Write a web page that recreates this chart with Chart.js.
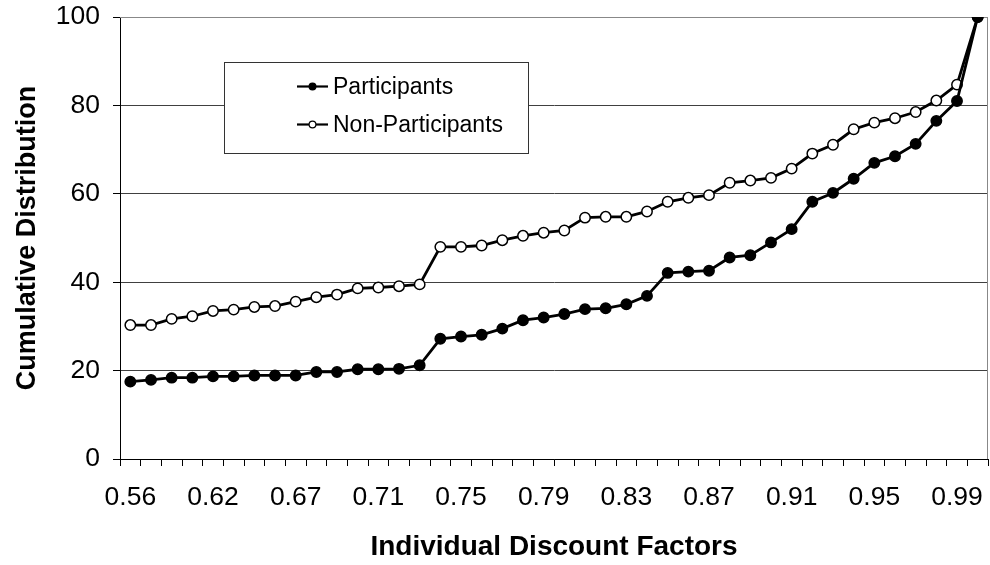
<!DOCTYPE html>
<html>
<head>
<meta charset="utf-8">
<script src="https://cdn.jsdelivr.net/npm/chart.js@4.4.1/dist/chart.umd.min.js"></script>
<style>
    html, body { margin: 0; padding: 0; background: #fff; }
    #wrap { width: 990px; height: 565px; position: relative; }
</style>
</head>
<body>
<div id="wrap"><canvas id="graficaDescuento"></canvas></div>
<script>
// 1. DATOS
const factores = [
    '0.56', '0.57', '0.59', '0.60', '0.62', '0.63', '0.64', '0.66', '0.67', '0.68', '0.69', '0.70',
    '0.71', '0.72', '0.73', '0.74', '0.75', '0.76', '0.77', '0.78', '0.79', '0.80', '0.81', '0.82',
    '0.83', '0.84', '0.85', '0.86', '0.87', '0.88', '0.89', '0.90', '0.91', '0.92', '0.93', '0.94',
    '0.95', '0.96', '0.97', '0.98', '0.99', '1.00'
];
const participantes = [
    17.5, 17.9, 18.4, 18.4, 18.7, 18.7, 18.9, 18.9, 18.9, 19.7, 19.7, 20.3,
    20.3, 20.4, 21.2, 27.2, 27.7, 28.1, 29.5, 31.4, 32.0, 32.8, 33.9, 34.1,
    35.0, 36.9, 42.1, 42.4, 42.6, 45.6, 46.1, 49.0, 52.0, 58.2, 60.2, 63.4,
    67.0, 68.5, 71.3, 76.5, 81.0, 100
];
const noParticipantes = [
    30.3, 30.3, 31.7, 32.3, 33.5, 33.8, 34.4, 34.6, 35.6, 36.6, 37.2, 38.6,
    38.8, 39.1, 39.5, 48.0, 48.0, 48.3, 49.5, 50.5, 51.2, 51.7, 54.6, 54.8,
    54.8, 56.0, 58.2, 59.1, 59.7, 62.5, 63.0, 63.6, 65.7, 69.1, 71.1, 74.6,
    76.1, 77.1, 78.5, 81.1, 84.7, 100
];
const ticksY = [0, 20, 40, 60, 80, 100];

const fuente = "Arial, 'Liberation Sans', sans-serif";

// 2. MARCO DEL ÁREA DE GRÁFICA (borde gris arriba y a la derecha)
const marcoPlugin = {
    id: 'marco',
    beforeDatasetsDraw(chart) {
        const { ctx, chartArea: a } = chart;
        ctx.save();
        ctx.strokeStyle = '#888';
        ctx.lineWidth = 1;
        ctx.beginPath();
        ctx.moveTo(a.left, a.top + 0.5);
        ctx.lineTo(a.right - 0.5, a.top + 0.5);
        ctx.lineTo(a.right - 0.5, a.bottom);
        ctx.stroke();
        ctx.restore();
    }
};

// 3. LEYENDA DENTRO DEL ÁREA (caja estilo Excel)
const leyendaPlugin = {
    id: 'leyendaCaja',
    afterDraw(chart) {
        const { ctx } = chart;
        const x0 = 224.5, y0 = 62.5, w = 304, h = 91;
        ctx.save();
        ctx.fillStyle = '#fff';
        ctx.fillRect(x0, y0, w, h);
        ctx.strokeStyle = '#333';
        ctx.lineWidth = 1;
        ctx.strokeRect(x0, y0, w, h);

        const filas = [86.5, 124.5];
        chart.data.datasets.forEach((ds, i) => {
            const y = filas[i];
            ctx.strokeStyle = '#000';
            ctx.lineWidth = 2.2;
            ctx.beginPath();
            ctx.moveTo(297, y);
            ctx.lineTo(328, y);
            ctx.stroke();
            ctx.beginPath();
            ctx.arc(312.5, y, 3.4, 0, Math.PI * 2);
            ctx.fillStyle = ds.pointBackgroundColor;
            ctx.fill();
            ctx.lineWidth = 1.2;
            ctx.stroke();

            ctx.fillStyle = '#000';
            ctx.font = '23px ' + fuente;
            ctx.textBaseline = 'middle';
            ctx.textAlign = 'left';
            ctx.fillText(ds.label, 333, y + 1);
        });
        ctx.restore();
    }
};

// 4. GRÁFICA
const ctx = document.getElementById('graficaDescuento').getContext('2d');
new Chart(ctx, {
    type: 'line',
    data: {
        labels: factores,
        datasets: [
            {
                label: 'Participants',
                data: participantes,
                borderColor: '#000',
                borderWidth: 2.8,
                pointRadius: 5.2,
                pointBorderWidth: 1.5,
                pointBorderColor: '#000',
                pointBackgroundColor: '#000',
                tension: 0
            },
            {
                label: 'Non-Participants',
                data: noParticipantes,
                borderColor: '#000',
                borderWidth: 2.8,
                pointRadius: 5.2,
                pointBorderWidth: 1.5,
                pointBorderColor: '#000',
                pointBackgroundColor: '#fff',
                tension: 0
            }
        ]
    },
    options: {
        responsive: true,
        maintainAspectRatio: false,
        animation: false,
        devicePixelRatio: 1,
        layout: { autoPadding: false, padding: { top: 17, right: 2, left: 0, bottom: 0 } },
        plugins: {
            legend: { display: false },
            tooltip: { enabled: false }
        },
        scales: {
            x: {
                type: 'category',
                offset: true,
                grid: {
                    offset: true,
                    drawOnChartArea: false,
                    drawTicks: true,
                    tickLength: 7,
                    color: '#000',
                    tickColor: '#000'
                },
                border: { display: true, color: '#000', width: 1 },
                ticks: {
                    autoSkip: false,
                    maxRotation: 0,
                    minRotation: 0,
                    padding: 16,
                    color: '#000',
                    font: { family: fuente, size: 26.5 },
                    callback: function (val, i) {
                        return i % 4 === 0 ? this.getLabelForValue(val) : '';
                    }
                },
                title: {
                    display: true,
                    text: 'Individual Discount Factors',
                    color: '#000',
                    font: { family: fuente, size: 28, weight: 'bold' },
                    padding: { top: 0, bottom: 1 }
                },
                afterFit: (s) => {
                    s.height = 106;
                    s.paddingLeft = 0;
                    s.paddingRight = 0;
                }
            },
            y: {
                min: 0,
                max: 100,
                afterBuildTicks: (s) => { s.ticks = ticksY.map(v => ({ value: v })); },
                grid: {
                    drawTicks: true,
                    tickLength: 7,
                    tickColor: '#000',
                    lineWidth: 1,
                    color: (c) => {
                        if (!c.tick) return '#404040';
                        if (c.tick.value === 100) return '#888';
                        if (c.tick.value === 0) return '#000';
                        return '#404040';
                    }
                },
                border: { display: true, color: '#000', width: 1 },
                ticks: {
                    padding: 13,
                    color: '#000',
                    font: { family: fuente, size: 26.5 }
                },
                title: {
                    display: true,
                    text: 'Cumulative Distribution',
                    color: '#000',
                    font: { family: fuente, size: 27, weight: 'bold' },
                    padding: { top: 11, bottom: 0 }
                },
                afterFit: (s) => {
                    s.width = 120;
                    s.paddingTop = 0;
                    s.paddingBottom = 0;
                }
            }
        }
    },
    plugins: [marcoPlugin, leyendaPlugin]
});
</script>
</body>
</html>
